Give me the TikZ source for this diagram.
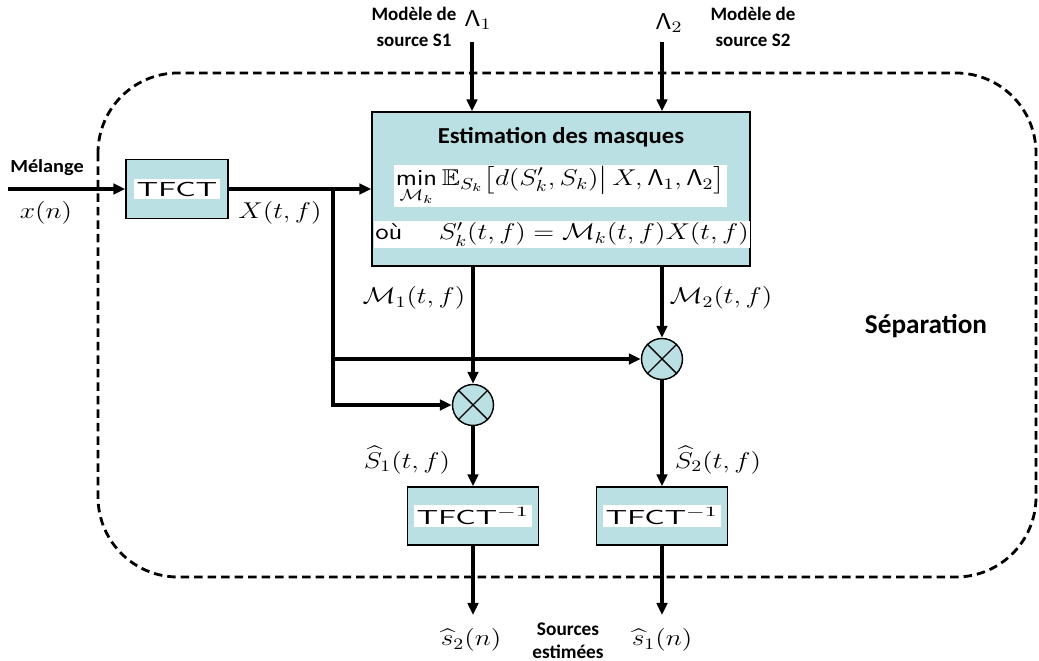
\documentclass[tikz,border=0pt]{standalone}
\usepackage{fix-cm}
\usepackage{amsmath}
\usepackage{fontspec}
\usepackage{amssymb}
\usepackage{graphicx}
\usetikzlibrary{arrows.meta,calc}
\newfontfamily\lab{Carlito}
\definecolor{boxblue}{RGB}{186,224,228}
\newcommand{\mth}[1]{\scalebox{1.2}[1]{\fontsize{13}{19}\selectfont$#1$}}
\newcommand{\sLam}{\mbox{\fontencoding{OT1}\fontfamily{cmss}\selectfont\char3}}
\newcommand{\tfbox}[1]{{\setlength{\fboxsep}{1.5pt}\colorbox{white}{\scalebox{1.6}[1]{\fontsize{11.5}{13}\selectfont\sffamily #1}}}}
\newcommand{\labx}[2]{\scalebox{#1}[1]{#2}}
\begin{document}
\begin{tikzpicture}[x=0.02cm,y=-0.02cm,
  line width=1.8pt,
  arr/.style={-{Triangle[length=0.24cm,width=0.21cm]}},
  blk/.style={draw,line width=0.8pt,fill=boxblue,inner sep=0pt},
  mult/.style={circle,draw,line width=0.8pt,fill=boxblue,minimum size=0.82cm,inner sep=0pt},
  lbl/.style={font=\lab\bfseries\fontsize{10.8}{15}\selectfont,align=center,inner sep=0pt},
  txt/.style={inner sep=0pt}]
\useasboundingbox (0,0) rectangle (1039,661);
% separation region
\draw[rounded corners=1.6cm,dash pattern=on 0.17cm off 0.1cm,line width=1.6pt] (98,73) rectangle (1036,577);
% blocks
\node[blk,minimum width=2.04cm,minimum height=1.18cm] (tfct) at (177,189) {\tfbox{TFCT}};
\node[blk,minimum width=7.56cm,minimum height=3.08cm] (est) at (561,189) {};
\node[txt,font=\lab\bfseries\fontsize{13}{15}\selectfont] (esttitle) at (561,137) {\labx{1.08}{Estimation des masques}};
\node[fill=white,inner sep=1pt] (eq1) at (560.5,186) {\mth{\displaystyle\mathop{\mbox{\sffamily min}}\limits_{\mathcal M_k}\mathbb E_{S_k}\bigl[d(S'_k,S_k)\big|\,X,\sLam_1,\sLam_2\bigr]}};
\node[fill=white,inner sep=1pt] (eq2) at (562,234.5) {\scalebox{1.2}[1]{\fontsize{13}{15}\selectfont\sffamily où\quad\ $S'_k(t,f)=\mathcal M_k(t,f)X(t,f)$}};
\node[mult] (m1) at (473,405) {};
\node[mult] (m2) at (662,359) {};
\foreach \m in {m1,m2}{
  \draw[line width=0.8pt] (\m.north east) -- (\m.south west);
  \draw[line width=0.8pt] (\m.north west) -- (\m.south east);
}
\node[blk,minimum width=2.62cm,minimum height=1.16cm] (inv1) at (473,516) {\tfbox{TFCT$^{-1}$}};
\node[blk,minimum width=2.62cm,minimum height=1.16cm] (inv2) at (662,516) {\tfbox{TFCT$^{-1}$}};
% coordinates
\coordinate (xin) at (8,189);
\coordinate (j) at (333,189);
\coordinate (l1) at (472,42);
\coordinate (l2) at (662,42);
\coordinate (o1) at (473,615);
\coordinate (o2) at (662,615);
% connectors
\draw[arr] (xin) -- (tfct.west);
\draw (tfct.east) -- (j);
\draw[arr] (j) -- (est.west);
\draw[arr] (j) |- (m1.west);
\draw[arr] (j |- m2.west) -- (m2.west);
\draw[arr] (l1) -- (l1 |- est.north);
\draw[arr] (l2) -- (l2 |- est.north);
\draw[arr] (m1 |- est.south) -- (m1.north);
\draw[arr] (m2 |- est.south) -- (m2.north);
\draw[arr] (m1.south) -- (inv1.north);
\draw[arr] (m2.south) -- (inv2.north);
\draw[arr] (inv1.south) -- (o1);
\draw[arr] (inv2.south) -- (o2);
% labels
\node[lbl,font=\lab\bfseries\fontsize{10.5}{12}\selectfont] (melange) at (47,168) {\labx{1.1}{Mélange}};
\node[txt] (xn) at (46,213) {\mth{x(n)}};
\node[txt] (Xtf) at (280,213) {\mth{X(t,f)}};
\node[txt] (lam1) at (478,20) {\mth{\sLam_1}};
\node[txt] (lam2) at (669,23) {\mth{\sLam_2}};
\node[lbl] (mod1) at (414,27) {Modèle de\\source S1};
\node[lbl] (mod2) at (753,27) {Modèle de\\source S2};
\node[txt] (M1) at (414,298) {\mth{\mathcal M_1(t,f)}};
\node[txt] (M2) at (721,298) {\mth{\mathcal M_2(t,f)}};
\node[txt] (S1) at (407,460) {\mth{\widehat S_1(t,f)}};
\node[txt] (S2) at (718,460) {\mth{\widehat S_2(t,f)}};
\node[txt] (s2n) at (471,640) {\mth{\widehat s_2(n)}};
\node[txt] (s1n) at (662,640) {\mth{\widehat s_1(n)}};
\node[lbl,font=\lab\bfseries\fontsize{11}{13}\selectfont] (sources) at (568,641) {Sources\\estimées};
\node[lbl,font=\lab\bfseries\fontsize{15.5}{17}\selectfont] (sep) at (926,326) {Séparation};
\end{tikzpicture}
\end{document}
